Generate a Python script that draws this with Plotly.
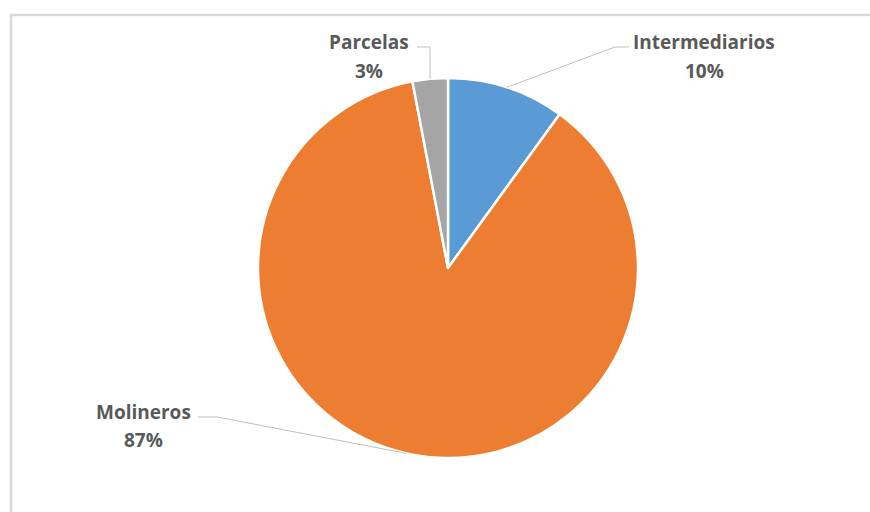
import math
import plotly.graph_objects as go

categories = ["Intermediarios", "Molineros", "Parcelas"]
values = [10, 87, 3]
pct_labels = ["10%", "87%", "3%"]
colors = ["#5B9BD5", "#ED7D31", "#A5A5A5"]

W, H = 870, 512
CX, CY, R = 448, 268, 190

def px(x):
    return x / W

def py(y):
    return 1 - y / H

fig = go.Figure(go.Pie(
    labels=categories,
    values=values,
    sort=False,
    direction="clockwise",
    rotation=0,
    textinfo="none",
    hoverinfo="label+percent",
    marker=dict(colors=colors, line=dict(color="white", width=2.5)),
    domain=dict(x=[px(CX - R), px(CX + R)], y=[py(CY + R), py(CY - R)]),
    showlegend=False,
))

# label layout: (text center x, name line y, pct line y, leader elbow points)
label_pos = {
    "Intermediarios": dict(x=704, y1=42, y2=71, elbow=[(615, 47), (629, 47)]),
    "Parcelas": dict(x=369, y1=42, y2=71, elbow=[(430, 47), (417, 47)]),
    "Molineros": dict(x=143, y1=412, y2=440, elbow=[(217, 417), (198, 417)]),
}

total = sum(values)
cum = 0
shapes = []
annotations = []
font = dict(family="Open Sans", size=19, color="#595959", weight="bold")
for cat, v, p in zip(categories, values, pct_labels):
    mid = (cum + v / 2) / total * 2 * math.pi
    cum += v
    ex = CX + R * math.sin(mid)
    ey = CY - R * math.cos(mid)
    lp = label_pos[cat]
    pts = [(ex, ey)] + lp["elbow"]
    path = "M " + " L ".join(f"{px(a)},{py(b)}" for a, b in pts)
    shapes.append(dict(type="path", xref="paper", yref="paper", path=path,
                       line=dict(color="#BFBFBF", width=1)))
    annotations.append(dict(x=px(lp["x"]), y=py(lp["y1"]), xref="paper", yref="paper",
                            text=cat, showarrow=False, font=font,
                            xanchor="center", yanchor="middle"))
    annotations.append(dict(x=px(lp["x"]), y=py(lp["y2"]), xref="paper", yref="paper",
                            text=p, showarrow=False, font=font,
                            xanchor="center", yanchor="middle"))

# chart frame
shapes.append(dict(type="path", xref="paper", yref="paper",
                   path=f"M {px(11)},{py(540)} L {px(11)},{py(15)} L {px(890)},{py(15)}",
                   line=dict(color="#D9D9D9", width=2.5)))

fig.update_layout(
    width=W, height=H,
    margin=dict(l=0, r=0, t=0, b=0),
    paper_bgcolor="white",
    plot_bgcolor="white",
    shapes=shapes,
    annotations=annotations,
)

fig.write_html(
    "out.html",
    config={"displayModeBar": False},
    post_script="document.body.style.margin='0';document.body.style.overflow='hidden';",
)
